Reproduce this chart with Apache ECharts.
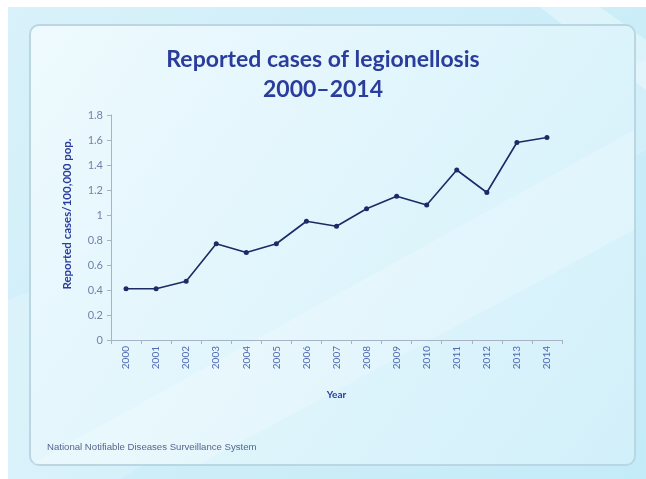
<!DOCTYPE html>
<html>
<head>
<meta charset="utf-8">
<script src="https://cdn.jsdelivr.net/npm/echarts@6/dist/echarts.min.js"></script>
<style>
html,body{margin:0;padding:0;background:#fff;}
#c{width:646px;height:479px;}
</style>
</head>
<body>
<div id="c"></div>
<script>
const years = ['2000','2001','2002','2003','2004','2005','2006','2007','2008','2009','2010','2011','2012','2013','2014'];
const rates = [0.41,0.41,0.47,0.77,0.70,0.77,0.95,0.91,1.05,1.15,1.08,1.36,1.18,1.58,1.62];
const yTicks = {min:0, max:1.8, interval:0.2};
const titleText = 'Reported cases of legionellosis\n2000\u20132014';
const yName = 'Reported cases/100,000 pop.';
const xName = 'Year';
const sourceText = 'National Notifiable Diseases Surveillance System';

const chart = echarts.init(document.getElementById('c'), null, {renderer:'canvas'});
chart.setOption({
  animation:false,
  backgroundColor:'#ffffff',
  graphic:[
    {type:'rect', z:-10, silent:true, shape:{x:8,y:7,width:638,height:472},
     style:{fill:new echarts.graphic.LinearGradient(0,0,1,1,[{offset:0,color:'#d8f1fa'},{offset:1,color:'#c4ebf8'}])}},
    {type:'polygon', z:-9, silent:true, shape:{points:[[8,300],[8,479],[120,479],[646,150],[646,60]]},
     style:{fill:'rgba(255,255,255,0.18)'}},
    {type:'polygon', z:-9, silent:true, shape:{points:[[540,7],[600,7],[646,40],[646,90]]},
     style:{fill:'rgba(255,255,255,0.35)'}},
    {type:'rect', z:-8, silent:true, shape:{x:30,y:25,width:605,height:440,r:9},
     style:{fill:new echarts.graphic.LinearGradient(0,0,1,1,[{offset:0,color:'#eefafe'},{offset:0.5,color:'#e0f5fc'},{offset:1,color:'#d2f0fa'}]),
            stroke:'#b9d6e2', lineWidth:2}},
    {type:'polygon', z:-7, silent:true, shape:{points:[[31,464],[200,464],[634,230],[634,130]]},
     style:{fill:'rgba(255,255,255,0.22)'}},
    {type:'text', z:10, left:47, top:442,
     style:{text:sourceText, fontSize:9.6, fill:'#56668e', fontFamily:'Liberation Sans'}},
    {type:'text', z:10, x:67, y:214, rotation:Math.PI/2,
     style:{text:yName, fontSize:11.5, fontWeight:'bold', fill:'#2b3d9c', fontFamily:'Lato',
            align:'center', verticalAlign:'middle'}}
  ],
  title:{
    text:titleText, left:'center', top:40,
    textStyle:{fontSize:23, fontWeight:'bold', color:'#2b3d9c', lineHeight:30, fontFamily:'Lato'}
  },
  grid:{left:111, right:84, top:115, bottom:139, containLabel:false},
  xAxis:{
    type:'category', data:years, boundaryGap:true,
    name:xName, nameLocation:'middle', nameGap:50,
    nameTextStyle:{fontSize:10, fontWeight:'bold', color:'#2b3d9c', fontFamily:'Lato'},
    axisLine:{lineStyle:{color:'#a7b2c4', width:1}},
    axisTick:{show:true, length:4, lineStyle:{color:'#a7b2c4'}},
    axisLabel:{rotate:90, fontSize:10, color:'#5068b0', margin:6, fontFamily:'Lato'}
  },
  yAxis:{
    type:'value', min:yTicks.min, max:yTicks.max, interval:yTicks.interval,
    axisLine:{show:true, lineStyle:{color:'#a7b2c4', width:1}},
    axisTick:{show:true, length:4, lineStyle:{color:'#a7b2c4'}},
    splitLine:{show:false},
    axisLabel:{fontSize:11, color:'#7282aa', margin:8, fontFamily:'Lato'}
  },
  series:[{
    type:'line', data:rates,
    symbol:'circle', symbolSize:5,
    lineStyle:{color:'#1c2a66', width:1.6},
    itemStyle:{color:'#1c2a66'}
  }]
});
</script>
</body>
</html>
